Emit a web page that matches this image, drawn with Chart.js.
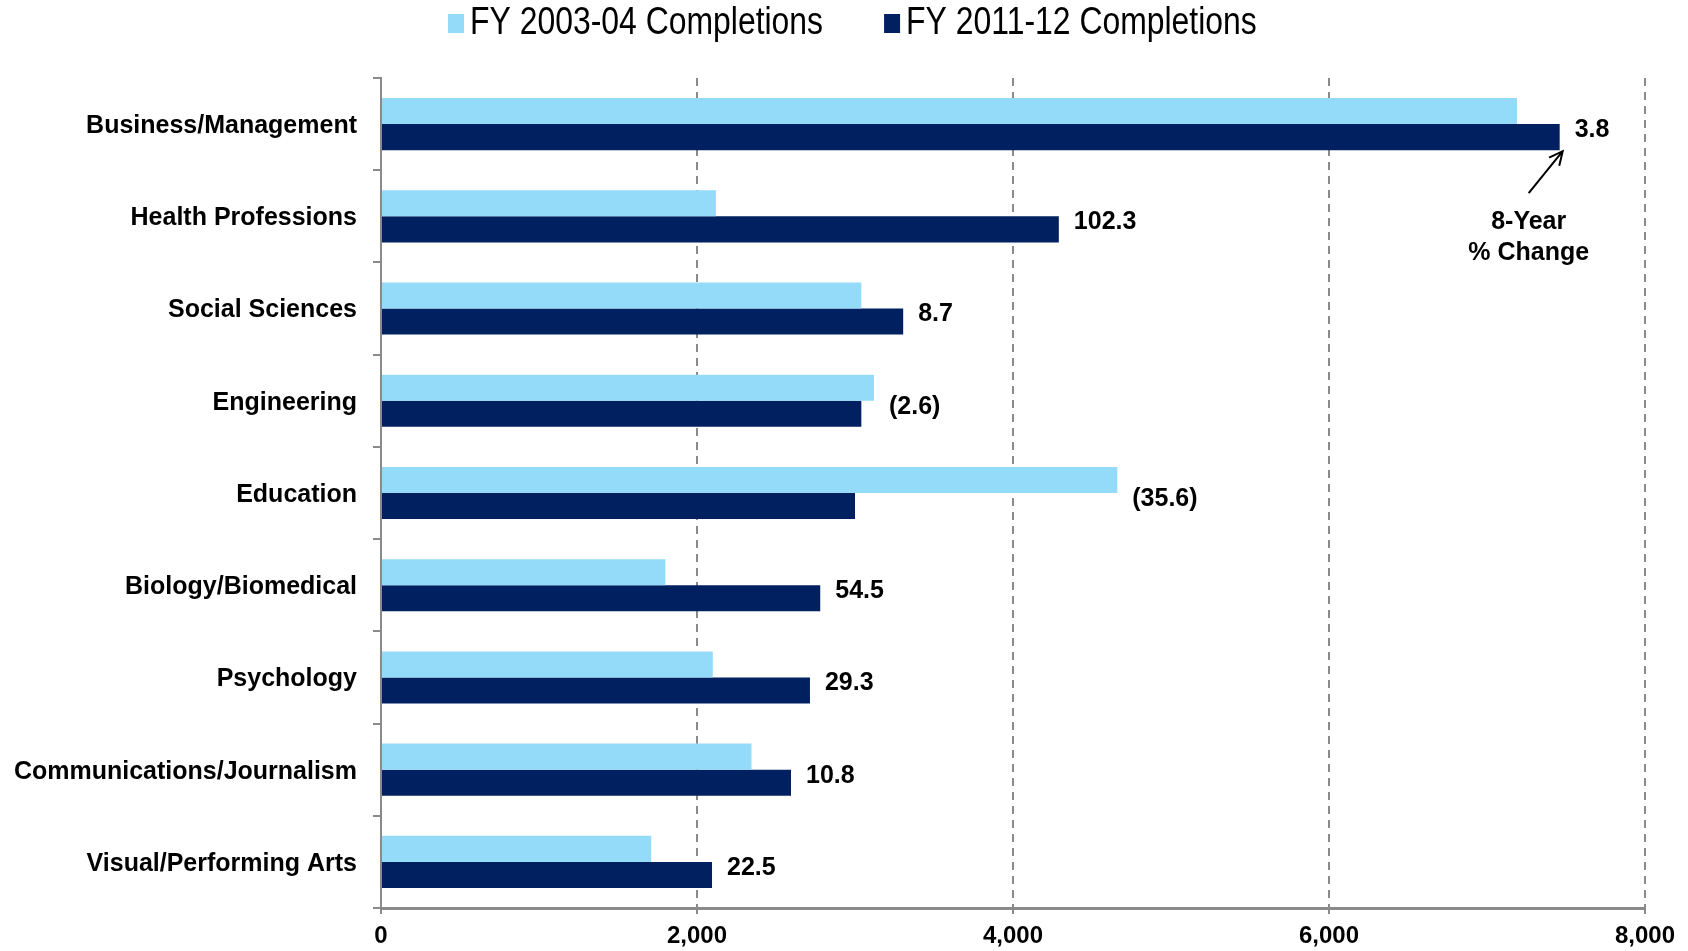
<!DOCTYPE html>
<html>
<head>
<meta charset="utf-8">
<script src="https://cdn.jsdelivr.net/npm/chart.js"></script>
<style>
  html, body { margin: 0; padding: 0; background: #fff; }
</style>
</head>
<body>
<canvas id="fieldChart" width="1688" height="951"></canvas>
<script>
const categories = ['Business/Management', 'Health Professions', 'Social Sciences', 'Engineering', 'Education',
  'Biology/Biomedical', 'Psychology', 'Communications/Journalism', 'Visual/Performing Arts'];
const completions0304 = [7190, 2120, 3040, 3120, 4660, 1800, 2100, 2345, 1710];
const completions1112 = [7460, 4290, 3305, 3040, 3000, 2780, 2715, 2595, 2095];
const pctChange = ['3.8', '102.3', '8.7', '(2.6)', '(35.6)', '54.5', '29.3', '10.8', '22.5'];
const seriesNames = ['FY 2003-04 Completions', 'FY 2011-12 Completions'];
const seriesColors = ['#93DBF9', '#002060'];
const xMin = 0, xMax = 8000, xStep = 2000;

const FONT = '"Liberation Sans", Arial, sans-serif';

// % change labels next to each pair of bars
const changeLabels = {
  id: 'changeLabels',
  afterDatasetsDraw(chart) {
    const ctx = chart.ctx;
    const m0 = chart.getDatasetMeta(0), m1 = chart.getDatasetMeta(1);
    ctx.save();
    ctx.font = 'bold 25px ' + FONT;
    ctx.fillStyle = '#000';
    ctx.textAlign = 'left';
    ctx.textBaseline = 'middle';
    pctChange.forEach((txt, i) => {
      const end = Math.max(m0.data[i].x, m1.data[i].x);
      ctx.fillText(txt, end + 15, m1.data[i].y - 7);
    });

    // "8-Year % Change" callout under the first bar
    const bar = m1.data[0];
    const tipX = bar.x + 3, tipY = bar.y + bar.height / 2 + 1;
    const tailX = bar.x - 31, tailY = tipY + 42;
    ctx.strokeStyle = '#000';
    ctx.lineWidth = 2;
    ctx.beginPath();
    ctx.moveTo(tailX, tailY);
    ctx.lineTo(tipX, tipY);
    const ang = Math.atan2(tipY - tailY, tipX - tailX);
    ctx.moveTo(tipX - 15 * Math.cos(ang - 0.45), tipY - 15 * Math.sin(ang - 0.45));
    ctx.lineTo(tipX, tipY);
    ctx.lineTo(tipX - 15 * Math.cos(ang + 0.45), tipY - 15 * Math.sin(ang + 0.45));
    ctx.stroke();
    ctx.textAlign = 'center';
    ctx.fillText('8-Year', tailX, tipY + 71);
    ctx.fillText('% Change', tailX, tipY + 102);
    ctx.restore();
  }
};

// legend across the top, drawn by hand to get the spacing right
const topLegend = {
  id: 'topLegend',
  afterDraw(chart) {
    const ctx = chart.ctx;
    ctx.save();
    ctx.font = '38px ' + FONT;
    ctx.textBaseline = 'middle';
    const squeeze = 0.84;
    let x = 448;
    seriesNames.forEach((name, i) => {
      ctx.fillStyle = seriesColors[i];
      ctx.fillRect(x, 14, 16, 19);
      ctx.fillStyle = '#000';
      ctx.save();
      ctx.translate(x + 22, 24);
      ctx.scale(squeeze, 1);
      ctx.fillText(name, 0, 0);
      ctx.restore();
      x += 22 + ctx.measureText(name).width * squeeze + 61;
    });
    ctx.restore();
  }
};

new Chart(document.getElementById('fieldChart'), {
  type: 'bar',
  data: {
    labels: categories,
    datasets: [
      { label: seriesNames[0], data: completions0304, backgroundColor: seriesColors[0] },
      { label: seriesNames[1], data: completions1112, backgroundColor: seriesColors[1] }
    ]
  },
  options: {
    indexAxis: 'y',
    responsive: false,
    animation: false,
    devicePixelRatio: 1,
    barPercentage: 1.0,
    categoryPercentage: 0.565,
    layout: { padding: { top: 78, right: 43, bottom: 0, left: 0 } },
    plugins: {
      legend: { display: false },
      tooltip: { enabled: false }
    },
    scales: {
      x: {
        min: xMin,
        max: xMax,
        ticks: {
          stepSize: xStep,
          padding: 8,
          maxRotation: 0,
          color: '#000',
          font: { family: FONT, size: 24, weight: 'bold' },
          callback: v => v.toLocaleString('en-US')
        },
        grid: { color: '#8a8a8a', lineWidth: 2, drawTicks: true, tickLength: 6, tickBorderDash: [] },
        border: { color: '#8a8a8a', width: 3, dash: [8, 6] },
        afterFit(scale) { scale.height = 43; }
      },
      y: {
        ticks: {
          padding: 16,
          labelOffset: 2,
          color: '#000',
          font: { family: FONT, size: 25, weight: 'bold' }
        },
        grid: { drawOnChartArea: false, drawTicks: true, tickLength: 8, color: '#8a8a8a', lineWidth: 2 },
        border: { color: '#8a8a8a', width: 2 },
        afterFit(scale) {
          scale.width = 381;
          scale.paddingTop = 0;
          scale.paddingBottom = 0;
        }
      }
    }
  },
  plugins: [changeLabels, topLegend]
});
</script>
</body>
</html>
